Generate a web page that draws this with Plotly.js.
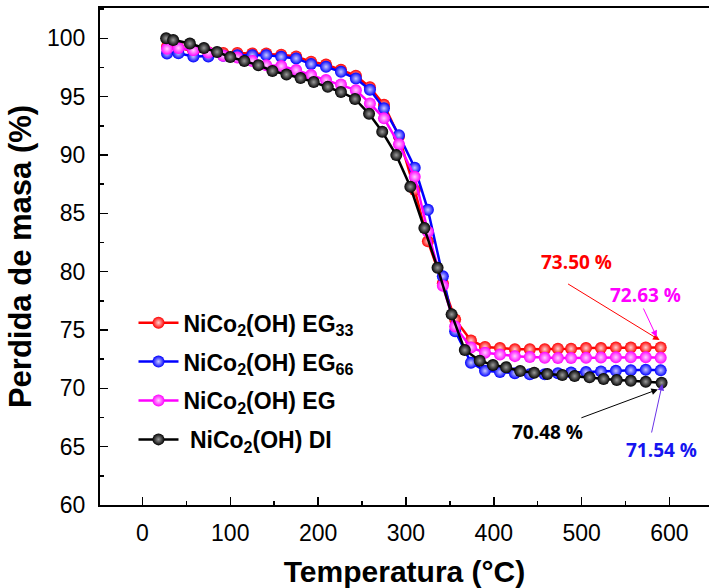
<!DOCTYPE html>
<html>
<head>
<meta charset="utf-8">
<script src="https://cdn.plot.ly/plotly-3.0.1.min.js"></script>
<style>html,body{margin:0;padding:0;background:#fff;}#chart{width:709px;height:588px;}</style>
</head>
<body>
<div id="chart"></div>
<script>
// Temperature grid (°C) for the three EG samples
const tempEG = [28, 41, 58, 75, 92, 108, 125, 141, 158, 175, 192, 209, 226, 243, 259, 275, 292, 310, 325, 342,
  356, 374, 390, 407, 424, 441, 458, 473, 488, 505, 522, 539, 556, 573, 590];
// Temperature grid (°C) for the DI sample
const tempDI = [27, 35, 54, 70, 85, 100, 116, 132, 148, 164, 180, 195, 211, 226, 242, 258, 273, 289, 305, 321,
  336, 352, 367, 384, 399, 414, 430, 446, 461, 478, 492, 509, 525, 540, 556, 573, 591];

const massEG33 = [99.3, 99.2, 98.9, 98.8, 98.75, 98.75, 98.7, 98.7, 98.6, 98.45, 98.0, 97.75, 97.3, 96.8, 95.8, 94.3,
  91.6, 87.0, 82.6, 79.0, 75.9, 74.1, 73.55, 73.45, 73.35, 73.35, 73.35, 73.4, 73.4, 73.45, 73.45, 73.5, 73.5, 73.5, 73.5];
const massEG66 = [98.7, 98.72, 98.45, 98.45, 98.5, 98.55, 98.55, 98.56, 98.42, 98.28, 97.79, 97.56, 97.13, 96.55, 95.6,
  94.0, 91.7, 88.9, 85.3, 79.6, 74.9, 72.2, 71.5, 71.4, 71.3, 71.2, 71.2, 71.3, 71.35, 71.4, 71.45, 71.5, 71.55, 71.6, 71.54];
const massEG = [99.1, 99.17, 98.97, 98.78, 98.5, 98.35, 98.05, 97.7, 97.62, 97.28, 96.85, 96.42, 96.05, 95.56, 94.42,
  93.14, 90.93, 88.13, 83.42, 78.79, 75.3, 73.5, 73.05, 72.9, 72.76, 72.68, 72.62, 72.6, 72.6, 72.62, 72.65, 72.66, 72.66, 72.66, 72.63];
const massDI = [100.0, 99.85, 99.55, 99.17, 98.83, 98.4, 98.06, 97.7, 97.2, 96.9, 96.6, 96.25, 95.84, 95.4, 94.8, 93.53,
  91.99, 89.99, 87.28, 83.74, 80.33, 76.34, 73.28, 72.37, 72.0, 71.8, 71.48, 71.34, 71.23, 71.14, 71.05, 70.94, 70.8,
  70.71, 70.65, 70.57, 70.48];

const seriesNames = ['NiCo<sub>2</sub>(OH) EG<sub>33</sub>', 'NiCo<sub>2</sub>(OH) EG<sub>66</sub>',
  'NiCo<sub>2</sub>(OH) EG', ' NiCo<sub>2</sub>(OH) DI'];
const finalLabels = ['73.50 %', '71.54 %', '72.63 %', '70.48 %'];

const xTicks = [0, 100, 200, 300, 400, 500, 600];
const yTicks = [60, 65, 70, 75, 80, 85, 90, 95, 100];

const colors = ['#ff0000', '#0000ff', '#ff00ff', '#000000'];
const glow = ['#ffd0d0', '#c8c8ff', '#ffd0ff', '#9a9a9a'];
const xs = [tempEG, tempEG, tempEG, tempDI];
const ys = [massEG33, massEG66, massEG, massDI];

const traces = seriesNames.map((n, i) => ({
  type: 'scatter', mode: 'lines+markers', name: n, x: xs[i], y: ys[i],
  legendgroup: 'g' + i,
  line: {color: colors[i], width: 2.5},
  marker: {color: colors[i], size: 12, line: {width: 0},
           gradient: {type: 'radial', color: glow[i]}}
}));

const ann = [];
const lab = [
  {i: 0, tx: 494, ty: 80.85, hx: 588.7, hy: 74.14, ax: -93, ay: -57, tc: '#ff0000', ac: '#ff0000'},
  {i: 2, tx: 572.8, ty: 78.0, hx: 585.5, hy: 74.4, ax: -14, ay: -30, tc: '#ff00ff', ac: '#ff00ff'},
  {i: 3, tx: 461.7, ty: 66.28, hx: 586.8, hy: 69.91, ax: -78, ay: 29, tc: '#000000', ac: '#000000'},
  {i: 1, tx: 590.7, ty: 64.7, hx: 591.8, hy: 70.37, ax: -11, ay: 50, tc: '#1515f0', ac: '#6a33e8'}
];
lab.forEach(l => {
  ann.push({x: l.tx, y: l.ty, xref: 'x', yref: 'y', text: '<b>' + finalLabels[l.i] + '</b>', showarrow: false,
    font: {family: '"Open Sans", "Noto Sans", sans-serif', size: 19, color: l.tc}});
  ann.push({x: l.hx, y: l.hy, xref: 'x', yref: 'y', text: '', showarrow: true, ax: l.ax, ay: l.ay,
    arrowhead: 2, arrowsize: 1.3, arrowwidth: 1, arrowcolor: l.ac, standoff: 0});
});

const axisFont = {family: '"Liberation Sans", Arial, sans-serif', size: 23, color: '#000'};
const titleFont = {family: '"Liberation Sans", Arial, sans-serif', size: 30, color: '#000', weight: 'bold'};
const layout = {
  width: 709, height: 588,
  margin: {l: 100, r: 0, t: 8, b: 83},
  paper_bgcolor: '#fff', plot_bgcolor: '#fff',
  showlegend: true,
  legend: {x: 0.055, y: 0.41, xanchor: 'left', yanchor: 'top', bgcolor: 'rgba(0,0,0,0)',
    font: {family: '"Liberation Sans", Arial, sans-serif', size: 23, color: '#000', weight: 'bold'},
    tracegroupgap: 6, itemwidth: 40},
  xaxis: {range: [-48.3, 645], tickvals: xTicks, ticktext: xTicks.map(String),
    ticks: 'inside', ticklen: 8, tickwidth: 1.5, tickcolor: '#000', ticklabelstandoff: 6,
    minor: {dtick: 50, tick0: 0, ticks: 'inside', ticklen: 4, tickwidth: 1.5, tickcolor: '#000'},
    showline: true, linewidth: 2, linecolor: '#000', mirror: true, showgrid: false, zeroline: false,
    tickfont: axisFont,
    title: {text: 'Temperatura (°C)', standoff: 17, font: titleFont}},
  yaxis: {range: [60, 102.6], tickvals: yTicks, ticktext: yTicks.map(String),
    ticks: 'inside', ticklen: 8, tickwidth: 1.5, tickcolor: '#000', ticklabelstandoff: 8,
    minor: {dtick: 2.5, tick0: 60, ticks: 'inside', ticklen: 4, tickwidth: 1.5, tickcolor: '#000'},
    showline: true, linewidth: 2, linecolor: '#000', mirror: false, showgrid: false, zeroline: false,
    tickfont: axisFont,
    title: {text: 'Perdida de masa (%)', standoff: 6, font: {...titleFont, size: 31}}},
  annotations: ann
};
Plotly.newPlot('chart', traces, layout, {staticPlot: true, displayModeBar: false});
</script>
</body>
</html>
